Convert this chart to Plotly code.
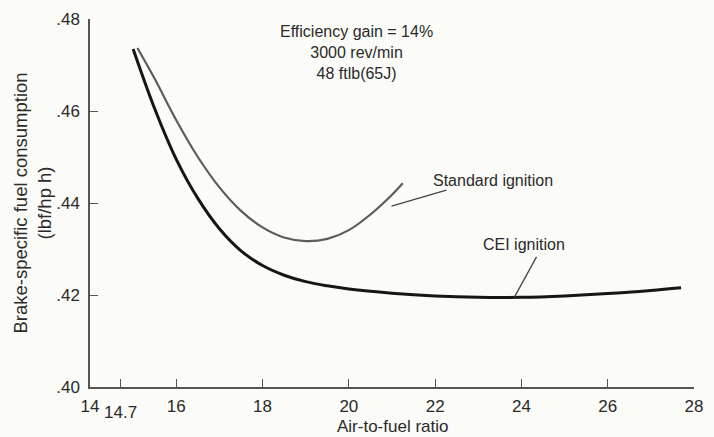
import plotly.graph_objects as go

# Data
cei_x = [15.0, 15.5, 16.0, 16.5, 17.0, 17.5, 18.0, 18.5, 19.0, 19.5, 20.0, 21.0, 22.0, 23.0, 24.0, 25.0, 26.0, 27.0, 27.7]
cei_y = [0.4735, 0.4605, 0.4495, 0.4410, 0.4344, 0.4296, 0.4264, 0.4243, 0.4229, 0.4220, 0.4213, 0.4204, 0.4198, 0.4195, 0.4195, 0.4198, 0.4203, 0.4210, 0.4216]

std_x = [15.1, 15.5, 16.0, 16.5, 17.0, 17.5, 18.0, 18.5, 19.0, 19.5, 20.0, 20.5, 21.0, 21.25]
std_y = [0.4737, 0.4670, 0.4580, 0.4500, 0.4434, 0.4383, 0.4347, 0.4325, 0.4317, 0.4322, 0.4341, 0.4375, 0.4418, 0.4443]

x_tickvals = [14, 14.7, 16, 18, 20, 22, 24, 26, 28]
x_ticktext = ["14", "", "16", "18", "20", "22", "24", "26", "28"]
y_tickvals = [0.40, 0.42, 0.44, 0.46, 0.48]
y_ticktext = [".40", ".42", ".44", ".46", ".48"]

FONT = "Liberation Sans, Arial, Helvetica, sans-serif"
TXT = "#2a2a2a"
BG = "#fbfbf7"

fig = go.Figure()
fig.add_trace(go.Scatter(x=std_x, y=std_y, mode="lines", line=dict(color="#5c5c5c", width=2.2, shape="spline", smoothing=1.0),
                         name="Standard ignition", hoverinfo="skip"))
fig.add_trace(go.Scatter(x=cei_x, y=cei_y, mode="lines", line=dict(color="#161616", width=3, shape="spline", smoothing=1.0),
                         name="CEI ignition", hoverinfo="skip"))

# labels
fig.add_annotation(x=20.18, y=0.4728, text="Efficiency gain = 14%<br>3000 rev/min<br>48 ftlb(65J)",
                   showarrow=False, font=dict(family=FONT, size=16, color=TXT), align="center")
fig.add_annotation(x=23.33, y=0.4450, text="Standard ignition", showarrow=False,
                   font=dict(family=FONT, size=16, color=TXT))
fig.add_annotation(x=24.07, y=0.4309, text="CEI ignition", showarrow=False,
                   font=dict(family=FONT, size=16, color=TXT))
# offset 14.7 label
fig.add_annotation(x=14.7, y=0, xref="x", yref="paper", yanchor="top", yshift=-14, text="14.7",
                   showarrow=False, font=dict(family=FONT, size=17, color=TXT))
# x-axis title
fig.add_annotation(x=21.0, y=0, xref="x", yref="paper", yanchor="middle", yshift=-39, text="Air-to-fuel ratio",
                   showarrow=False, font=dict(family=FONT, size=17, color=TXT))

# leader lines
fig.add_shape(type="line", x0=20.99, y0=0.4393, x1=22.26, y1=0.4428, line=dict(color="#444", width=1.3))
fig.add_shape(type="line", x0=24.35, y0=0.4283, x1=23.84, y1=0.4196, line=dict(color="#444", width=1.3))

fig.update_layout(
    width=714, height=437,
    margin=dict(l=90, r=20, t=19, b=50),
    paper_bgcolor=BG, plot_bgcolor=BG,
    showlegend=False,
    font=dict(family=FONT, size=16, color=TXT),
    xaxis=dict(range=[14, 28], tickvals=x_tickvals, ticktext=x_ticktext, ticks="inside", ticklen=8,
               tickcolor="#555", showline=True, linecolor="#555", linewidth=1.5, showgrid=False, zeroline=False,
               ticklabelstandoff=3, tickfont=dict(size=17), automargin=False),
    yaxis=dict(range=[0.40, 0.48], tickvals=y_tickvals, ticktext=y_ticktext, ticks="inside", ticklen=8,
               tickcolor="#555", showline=True, linecolor="#555", linewidth=1.5, showgrid=False, zeroline=False,
               ticklabelstandoff=5, automargin=False,
               title=dict(text="Brake-specific fuel consumption<br>(lbf/hp h)", standoff=0, font=dict(size=18.5)),
               tickfont=dict(size=17)),
)

fig.write_html("out.html", config={"displayModeBar": False},
               post_script="document.body.style.margin='0';document.body.style.background='%s';" % BG)
